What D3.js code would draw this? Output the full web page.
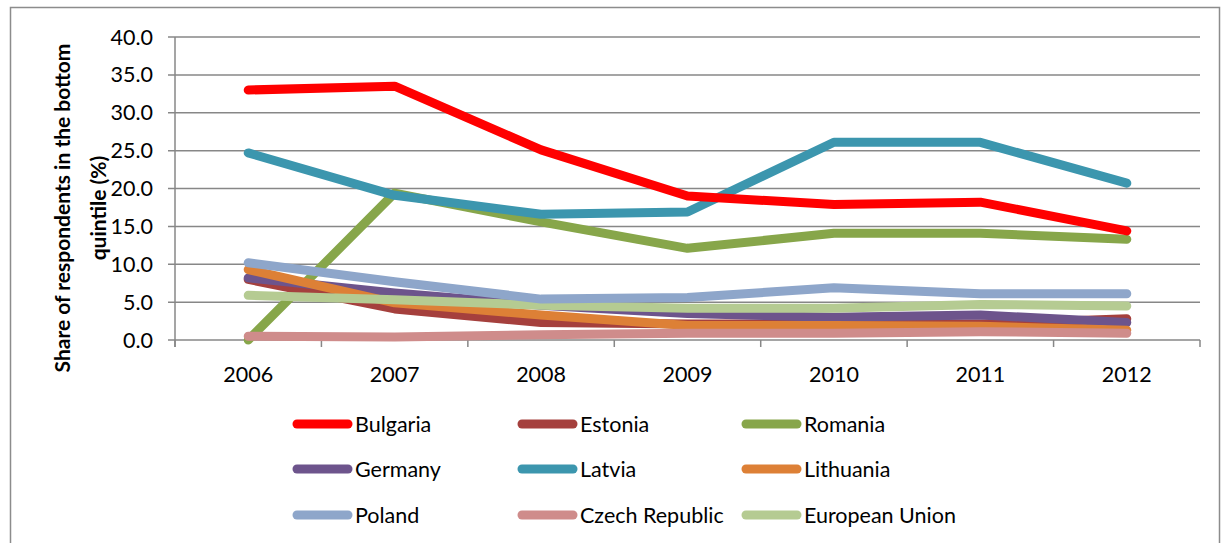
<!DOCTYPE html>
<html>
<head>
<meta charset="utf-8">
<script src="https://cdn.jsdelivr.net/npm/d3@7"></script>
<style>
  body { margin: 0; background: #fff; }
  text { font-family: Lato, "Liberation Sans", sans-serif; fill: #000; }
</style>
</head>
<body>
<svg id="chart" width="1230" height="543"></svg>
<script>
// data
const years = ["2006", "2007", "2008", "2009", "2010", "2011", "2012"];
const yTicks = [0, 5, 10, 15, 20, 25, 30, 35, 40];

const bulgaria = [33.0, 33.5, 25.1, 19.0, 17.9, 18.2, 14.4];
const estonia = [8.0, 4.1, 2.3, 2.1, 2.1, 2.1, 2.8];
const romania = [0.0, 19.4, 15.6, 12.1, 14.1, 14.1, 13.3];
const germany = [8.2, 6.2, 4.6, 3.5, 3.0, 3.3, 2.3];
const latvia = [24.7, 19.1, 16.6, 16.9, 26.1, 26.1, 20.7];
const lithuania = [9.3, 4.9, 3.3, 1.9, 1.9, 1.8, 1.3];
const poland = [10.2, 7.7, 5.4, 5.6, 6.9, 6.1, 6.1];
const czech = [0.5, 0.4, 0.7, 0.9, 0.9, 1.1, 0.9];
const eu = [5.9, 5.3, 4.6, 4.2, 4.2, 4.7, 4.5];

const series = [
    { name: "Bulgaria", values: bulgaria, color: "#ff0000" },
    { name: "Estonia", values: estonia, color: "#a5403d" },
    { name: "Romania", values: romania, color: "#87a64a" },
    { name: "Germany", values: germany, color: "#6d548c" },
    { name: "Latvia", values: latvia, color: "#3c96ae" },
    { name: "Lithuania", values: lithuania, color: "#dd8036" },
    { name: "Poland", values: poland, color: "#8ea6ca" },
    { name: "Czech Republic", values: czech, color: "#cf8c8b" },
    { name: "European Union", values: eu, color: "#b5cb92" }
];

// drawing order: later ones sit on top
const drawOrder = ["Romania", "Estonia", "Germany", "Lithuania", "European Union", "Poland", "Czech Republic", "Latvia", "Bulgaria"];

const svg = d3.select("#chart");
const margin = { left: 175, right: 30, top: 37 };
const width = 1230;
const fontSize = 21.5;

// outer chart border
svg.append("rect")
    .attr("x", 10.5).attr("y", 7.5)
    .attr("width", 1209).attr("height", 560)
    .attr("fill", "none")
    .attr("stroke", "#8c8c8c")
    .attr("stroke-width", 1.5);

const x = d3.scaleBand()
    .domain(years)
    .range([margin.left, width - margin.right]);

const y = d3.scaleLinear()
    .domain([0, 40])
    .range([340, margin.top]);

const grid = svg.append("g");

// horizontal gridlines
grid.selectAll("line.grid")
    .data(yTicks)
    .enter()
    .append("line")
    .attr("x1", margin.left - 7)
    .attr("x2", width - margin.right)
    .attr("y1", d => y(d))
    .attr("y2", d => y(d))
    .attr("stroke", "#878787")
    .attr("stroke-width", 1.5);

// y axis line
grid.append("line")
    .attr("x1", margin.left).attr("x2", margin.left)
    .attr("y1", y(40)).attr("y2", y(0) + 7)
    .attr("stroke", "#878787")
    .attr("stroke-width", 1.5);

// x ticks between categories
const xBounds = years.map(d => x(d) + x.bandwidth()).concat([margin.left]);
grid.selectAll("line.xt")
    .data(xBounds)
    .enter()
    .append("line")
    .attr("x1", d => d).attr("x2", d => d)
    .attr("y1", y(0)).attr("y2", y(0) + 7)
    .attr("stroke", "#878787")
    .attr("stroke-width", 1.5);

// y tick labels
svg.selectAll("text.ytl")
    .data(yTicks)
    .enter()
    .append("text")
    .attr("x", margin.left - 22)
    .attr("y", d => y(d))
    .attr("dy", "0.35em")
    .attr("text-anchor", "end")
    .attr("font-size", fontSize)
    .text(d => d3.format(".1f")(d));

// x tick labels
svg.selectAll("text.xtl")
    .data(years)
    .enter()
    .append("text")
    .attr("x", d => x(d) + x.bandwidth() / 2)
    .attr("y", 382)
    .attr("text-anchor", "middle")
    .attr("font-size", fontSize)
    .text(d => d);

// y axis title, two lines
const title = svg.append("text")
    .attr("transform", "translate(70, 208) rotate(-90)")
    .attr("text-anchor", "middle")
    .attr("font-size", 21)
    .attr("font-weight", "bold");
title.append("tspan").attr("x", 0).attr("dy", 0).text("Share of respondents in the bottom");
title.append("tspan").attr("x", 0).attr("dy", 36).text("quintile (%)");

const line = d3.line()
    .x((d, i) => x(years[i]) + x.bandwidth() / 2)
    .y(d => y(d));

svg.append("g")
    .selectAll("path")
    .data(drawOrder.map(n => series.find(s => s.name === n)))
    .enter()
    .append("path")
    .attr("d", d => line(d.values))
    .attr("fill", "none")
    .attr("stroke", d => d.color)
    .attr("stroke-width", 9)
    .attr("stroke-linecap", "round")
    .attr("stroke-linejoin", "round");

// legend, 3 columns
const legend = svg.append("g");
const colX = [297, 522, 746];
const rowY = [424, 469, 515];
const items = legend.selectAll("g")
    .data(series)
    .enter()
    .append("g")
    .attr("transform", (d, i) => `translate(${colX[i % 3]}, ${rowY[Math.floor(i / 3)]})`);

items.append("line")
    .attr("x1", 0).attr("x2", 51)
    .attr("y1", 0).attr("y2", 0)
    .attr("stroke", d => d.color)
    .attr("stroke-width", 9)
    .attr("stroke-linecap", "round");

items.append("text")
    .attr("x", 58)
    .attr("y", 0)
    .attr("dy", "0.35em")
    .attr("font-size", fontSize)
    .text(d => d.name);
</script>
</body>
</html>
